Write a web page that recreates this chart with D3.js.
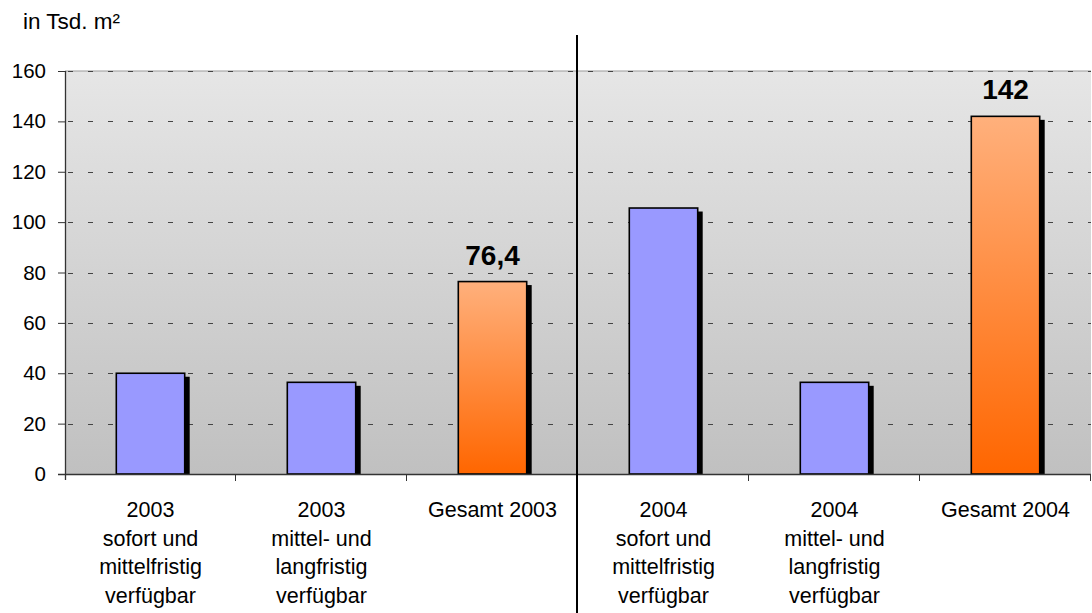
<!DOCTYPE html>
<html>
<head>
<meta charset="utf-8">
<script src="https://cdn.jsdelivr.net/npm/d3@7"></script>
<style>
  html, body { margin: 0; padding: 0; background: #fff; }
  svg { display: block; font-family: "Liberation Sans", Arial, sans-serif; }
</style>
</head>
<body>
<svg id="chart" width="1092" height="613"></svg>
<script>
// Flächenangebot in Tsd. m²
const categories = [
  ["2003", "sofort und", "mittelfristig", "verfügbar"],
  ["2003", "mittel- und", "langfristig", "verfügbar"],
  ["Gesamt 2003"],
  ["2004", "sofort und", "mittelfristig", "verfügbar"],
  ["2004", "mittel- und", "langfristig", "verfügbar"],
  ["Gesamt 2004"]
];
const values = [40, 36.4, 76.4, 105.6, 36.4, 142];
const isTotal = [false, false, true, false, false, true];
const valueLabels = [null, null, "76,4", null, null, "142"];
const yTicks = [0, 20, 40, 60, 80, 100, 120, 140, 160];
const unitLabel = "in Tsd. m²";

const svg = d3.select("#chart");
const margin = { left: 65, right: 1, top: 71, bottom: 139 };
const W = 1092, H = 613;
const x0 = margin.left, x1 = W - margin.right;
const y0 = H - margin.bottom, y1 = margin.top;

const x = d3.scaleBand().domain(d3.range(categories.length)).range([x0, x1]).paddingInner(0).paddingOuter(0);
const y = d3.scaleLinear().domain([0, 160]).range([y0, y1]);

const defs = svg.append("defs");
const bg = defs.append("linearGradient").attr("id", "bg").attr("x1", 0).attr("y1", 0).attr("x2", 0).attr("y2", 1);
bg.append("stop").attr("offset", "0%").attr("stop-color", "#e6e6e6");
bg.append("stop").attr("offset", "100%").attr("stop-color", "#c0c0c0");
const og = defs.append("linearGradient").attr("id", "orange").attr("x1", 0).attr("y1", 0).attr("x2", 0).attr("y2", 1);
og.append("stop").attr("offset", "0%").attr("stop-color", "#ffb07c");
og.append("stop").attr("offset", "100%").attr("stop-color", "#ff6600");

// plot area
svg.append("rect").attr("x", x0).attr("y", y1).attr("width", x1 - x0).attr("height", y0 - y1).attr("fill", "url(#bg)");
svg.append("line").attr("x1", x0).attr("x2", x1).attr("y1", y1).attr("y2", y1).attr("stroke", "#9a9a9a").attr("stroke-width", 1);

// gridlines
svg.append("g").selectAll("line").data(yTicks.filter(d => d > 0)).join("line")
  .attr("x1", x0).attr("x2", x1)
  .attr("y1", d => Math.round(y(d)) + 0.5).attr("y2", d => Math.round(y(d)) + 0.5)
  .attr("stroke", "#444").attr("stroke-width", 1).attr("stroke-dasharray", "5,15")
  .attr("stroke-dashoffset", -3);

// bars
const bw = x.bandwidth() * 0.4;
const bx = i => x(i) + (x.bandwidth() - bw) / 2;
const bars = svg.append("g");
bars.selectAll("rect.shadow").data(values).join("rect").attr("class", "shadow")
  .attr("x", (d, i) => bx(i) + 5).attr("y", d => y(d) + 3.5)
  .attr("width", bw).attr("height", d => y0 - y(d) - 3.5)
  .attr("fill", "#000");
bars.selectAll("rect.bar").data(values).join("rect").attr("class", "bar")
  .attr("x", (d, i) => bx(i)).attr("y", d => y(d))
  .attr("width", bw).attr("height", d => y0 - y(d))
  .attr("fill", (d, i) => isTotal[i] ? "url(#orange)" : "#9999ff")
  .attr("stroke", "#000").attr("stroke-width", 1.6);

// value labels on the total bars
const labelled = d3.range(values.length).filter(i => valueLabels[i] !== null);
svg.append("g").selectAll("text").data(labelled).join("text")
  .attr("x", i => bx(i) + bw / 2)
  .attr("y", i => y(values[i]) - 17)
  .attr("text-anchor", "middle")
  .attr("font-size", 28).attr("font-weight", "bold").attr("fill", "#000")
  .text(i => valueLabels[i]);

// y axis
const yAxis = d3.axisLeft(y).tickValues(yTicks).tickSize(7).tickPadding(12).tickFormat(d3.format("d"));
const ya = svg.append("g").attr("transform", `translate(${x0},0)`).call(yAxis);
ya.select(".domain").remove();
ya.selectAll(".tick line").attr("stroke", "#333");
ya.selectAll(".tick text").attr("font-size", 20.5).attr("fill", "#000").attr("font-family", "Liberation Sans, Arial, sans-serif");
svg.append("line").attr("x1", x0 + 0.5).attr("x2", x0 + 0.5).attr("y1", y1).attr("y2", y0 + 6).attr("stroke", "#333").attr("stroke-width", 1.3);

// x axis
svg.append("line").attr("x1", x0 - 7).attr("x2", x1).attr("y1", y0 + 0.5).attr("y2", y0 + 0.5).attr("stroke", "#333").attr("stroke-width", 1.3);
svg.append("g").selectAll("line").data(d3.range(1, categories.length + 1)).join("line")
  .attr("x1", i => (i < categories.length ? x(i) : x1) - 0.5)
  .attr("x2", i => (i < categories.length ? x(i) : x1) - 0.5)
  .attr("y1", y0).attr("y2", y0 + 7).attr("stroke", "#333");

// category labels
const cl = svg.append("g").selectAll("text").data(categories).join("text")
  .attr("x", (d, i) => x(i) + x.bandwidth() / 2)
  .attr("y", 517)
  .attr("text-anchor", "middle").attr("font-size", 21.5).attr("fill", "#000");
cl.selectAll("tspan").data(d => d).join("tspan")
  .attr("x", function () { return this.parentNode.getAttribute("x"); })
  .attr("dy", (d, j) => j === 0 ? 0 : 28.7)
  .text(d => d);

// separator between years
const sep = x(3) - 1;
svg.append("line").attr("x1", sep).attr("x2", sep).attr("y1", 35).attr("y2", H).attr("stroke", "#000").attr("stroke-width", 2);

// unit label
svg.append("text").attr("x", 23).attr("y", 29).attr("font-size", 22.5).attr("fill", "#000").text(unitLabel);
</script>
</body>
</html>
